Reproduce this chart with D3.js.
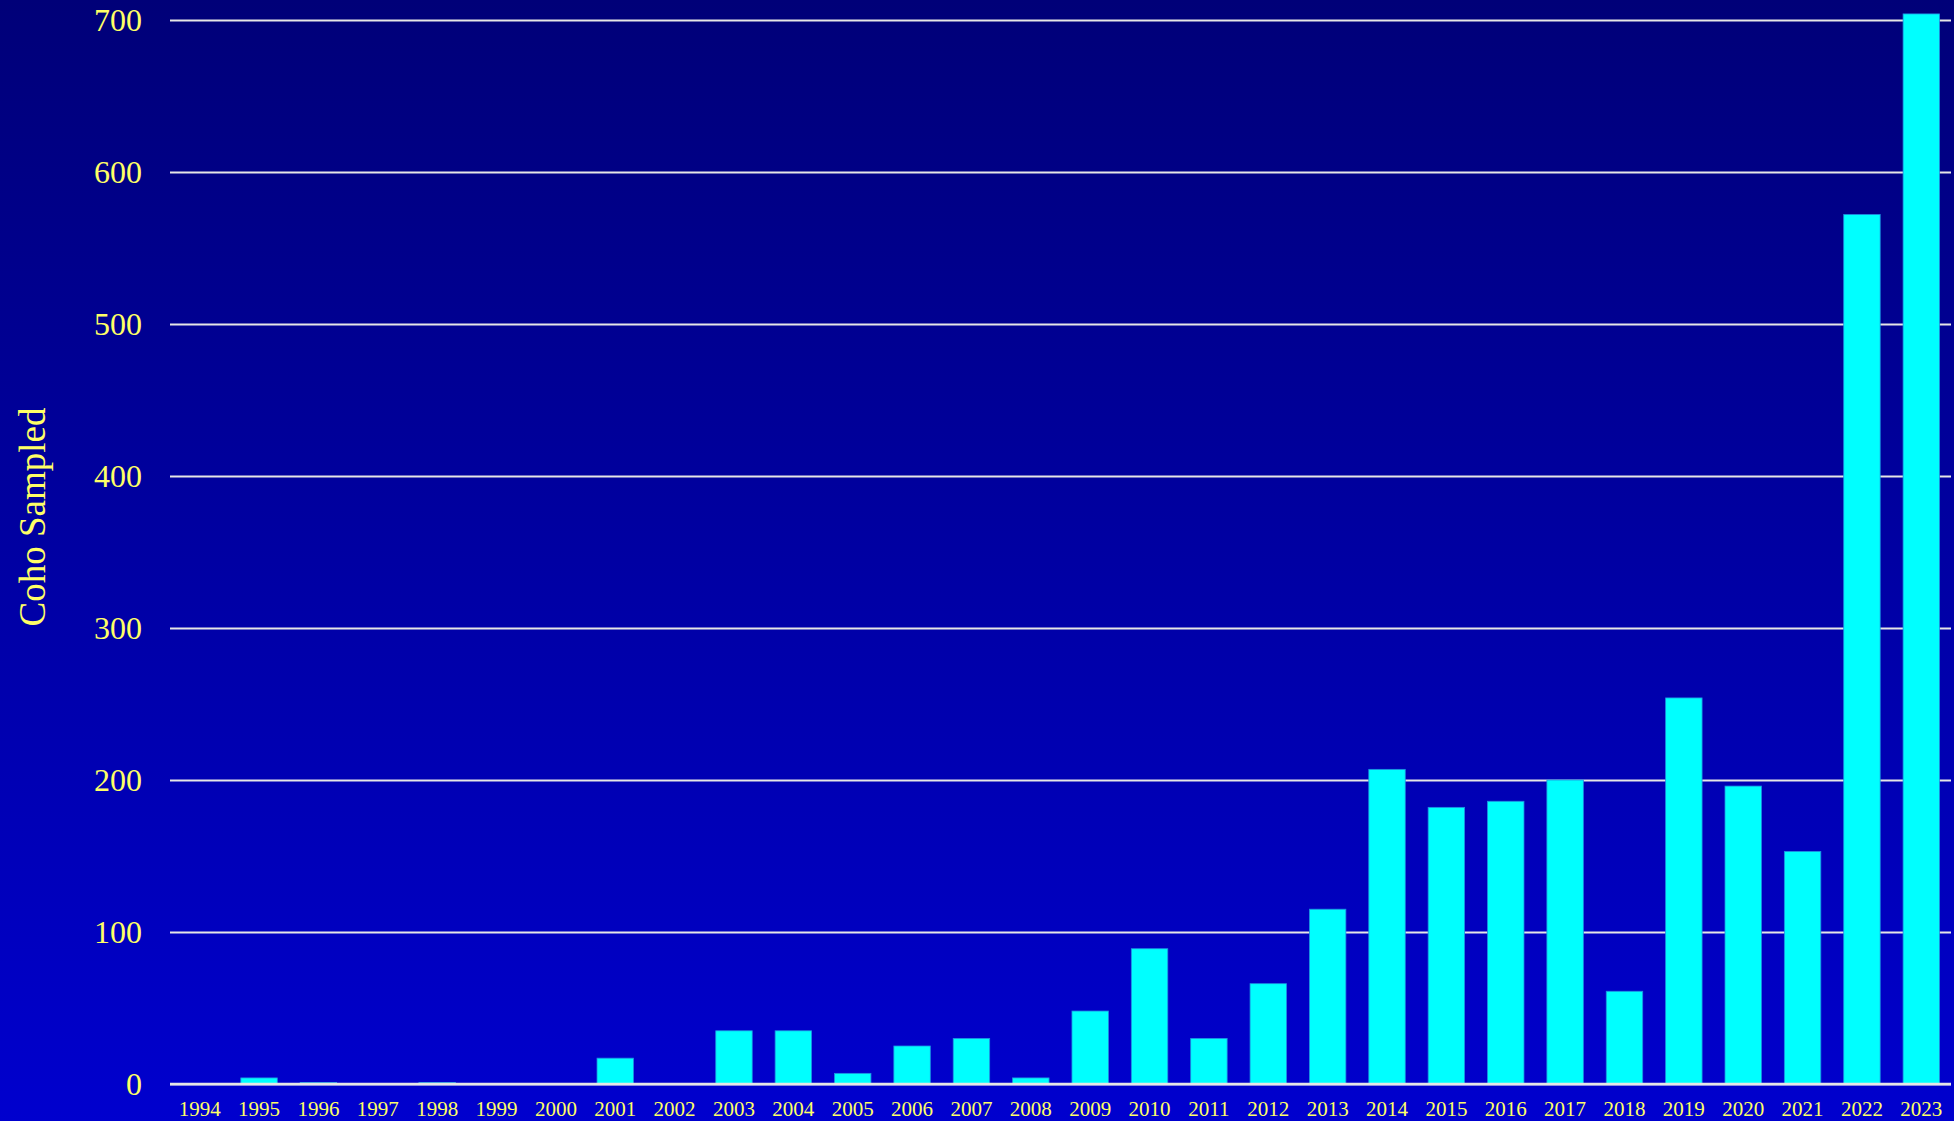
<!DOCTYPE html>
<html>
<head>
<meta charset="utf-8">
<script src="https://cdn.jsdelivr.net/npm/d3@7"></script>
<style>
  html, body { margin: 0; padding: 0; background: #000080; }
  svg { display: block; }
</style>
</head>
<body>
<svg width="1954" height="1121"></svg>
<script>
// data
const years = ["1994","1995","1996","1997","1998","1999","2000","2001","2002","2003",
               "2004","2005","2006","2007","2008","2009","2010","2011","2012","2013",
               "2014","2015","2016","2017","2018","2019","2020","2021","2022","2023"];
const cohoSampled = [0,4,1,0,1,0,0,17,0,35,
                     35,7,25,30,4,48,89,30,66,115,
                     207,182,186,200,61,254,196,153,572,704];
const yTicks = [0,100,200,300,400,500,600,700];

const data = years.map((y,i) => ({year: y, value: cohoSampled[i]}));

const svg = d3.select("svg");

// fond en degrade
const defs = svg.append("defs");
const grad = defs.append("linearGradient")
    .attr("id","bg")
    .attr("x1",0).attr("y1",0).attr("x2",0).attr("y2",1);
grad.append("stop").attr("offset","0%").attr("stop-color","#000078");
grad.append("stop").attr("offset","100%").attr("stop-color","#0000CE");

svg.append("rect")
    .attr("width",1954).attr("height",1121)
    .attr("fill","url(#bg)");

const x = d3.scaleBand()
    .domain(years)
    .range([170, 1951])
    .paddingInner(0.386)
    .paddingOuter(0.193);

const y = d3.scaleLinear()
    .domain([0, 700])
    .range([1084, 20]);

// grille
svg.append("g")
    .attr("class","grid")
    .attr("transform","translate(170,0)")
    .call(d3.axisLeft(y).tickValues(yTicks).tickSize(-1781).tickFormat(""))
    .call(g => g.select(".domain").remove())
    .selectAll("line")
    .attr("stroke","#E6E6E6")
    .attr("stroke-width",2);

// barres
svg.append("g")
    .selectAll(".bar")
    .data(data)
    .join("rect")
    .attr("class","bar")
    .attr("x", d => x(d.year))
    .attr("width", x.bandwidth())
    .attr("y", d => y(d.value))
    .attr("height", d => y(0) - y(d.value))
    .attr("fill","#00FFFF")
    .attr("stroke","#1E90E0")
    .attr("stroke-width",0.8);

// ligne de base par dessus
svg.append("line")
    .attr("x1",170).attr("x2",1951)
    .attr("y1",y(0)).attr("y2",y(0))
    .attr("stroke","#E6E6E6")
    .attr("stroke-width",2.5);

// axe y
const yAxis = svg.append("g")
    .attr("transform","translate(142,0)")
    .call(d3.axisLeft(y).tickValues(yTicks).tickSize(0).tickPadding(0));
yAxis.select(".domain").remove();
yAxis.selectAll("text")
    .attr("fill","#FFFF66")
    .style("font-family","'Liberation Serif', 'Times New Roman', serif")
    .style("font-size","32px");

// axe x
const xAxis = svg.append("g")
    .attr("transform","translate(0,1100)")
    .call(d3.axisBottom(x).tickSize(0).tickPadding(0));
xAxis.select(".domain").remove();
xAxis.selectAll("text")
    .attr("dy","16px")
    .attr("fill","#FFFF66")
    .style("font-family","'Liberation Serif', 'Times New Roman', serif")
    .style("font-size","21px");

// titre y
svg.append("text")
    .attr("transform","translate(45,517) rotate(-90)")
    .attr("text-anchor","middle")
    .attr("fill","#FFFF66")
    .style("font-family","'Liberation Serif', 'Times New Roman', serif")
    .style("font-size","37px")
    .text("Coho Sampled");
</script>
</body>
</html>
